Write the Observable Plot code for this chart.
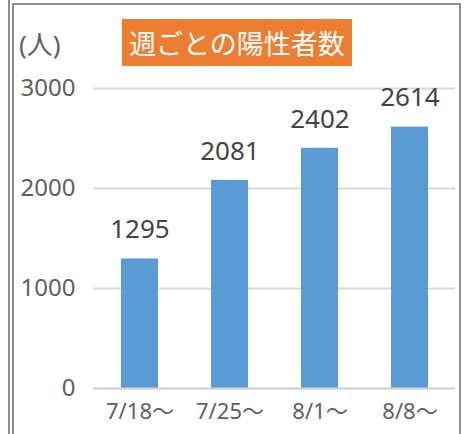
<!DOCTYPE html>
<html>
<head>
<meta charset="utf-8">
<script src="https://cdn.jsdelivr.net/npm/d3@7"></script>
<script src="https://cdn.jsdelivr.net/npm/@observablehq/plot@0.6"></script>
<style>
  html, body { margin: 0; padding: 0; background: #fff; }
  #wrap { position: relative; width: 466px; height: 434px; overflow: hidden; font-family: "Noto Sans", "Noto Sans CJK JP", sans-serif; }
  #wrap svg { position: absolute; left: 0; top: 0; }
  .line { position: absolute; background: #8e8e8e; }
  #title { position: absolute; left: 122px; top: 19px; width: 230px; height: 47px; background: #ED7D31; color: #fff;
           font-family: "Noto Sans CJK JP", sans-serif; font-size: 27px; line-height: 47px; text-align: center; white-space: nowrap; }
  #unit { position: absolute; left: 19px; top: 27px; font-size: 26px; line-height: 34px; color: #5f5f5f; white-space: nowrap; }
</style>
</head>
<body>
<div id="wrap">
  <div class="line" style="left:8px; top:0; width:2px; height:434px;"></div>
  <div class="line" style="left:12px; top:3px; width:2px; height:431px;"></div>
  <div class="line" style="left:12px; top:3px; width:449px; height:2px;"></div>
  <div class="line" style="left:459px; top:3px; width:2px; height:431px;"></div>
</div>
<script>
const weeks = ["7/18〜", "7/25〜", "8/1〜", "8/8〜"];
const cases = [1295, 2081, 2402, 2614];
const yTicks = [0, 1000, 2000, 3000];
const titleText = "週ごとの陽性者数";
const unitText = "(人)";

const data = weeks.map((w, i) => ({week: w, cases: cases[i]}));

const chart = Plot.plot({
  width: 466,
  height: 434,
  marginLeft: 93,
  marginRight: 11,
  marginTop: 88,
  marginBottom: 46,
  style: {fontFamily: '"Noto Sans", "Noto Sans CJK JP", sans-serif', background: "transparent"},
  x: {domain: weeks, paddingInner: 0.59, paddingOuter: 0.295, label: null},
  y: {domain: [0, 3000], ticks: yTicks, label: null},
  marks: [
    Plot.gridY(yTicks, {stroke: "#d9d9d9", strokeOpacity: 1, strokeWidth: 2}),
    Plot.barY(data, {x: "week", y: "cases", fill: "#5B9BD5"}),
    Plot.ruleY([0], {stroke: "#d4d4d4", strokeWidth: 2}),
    Plot.text(data, {x: "week", y: "cases", text: d => String(d.cases), dy: -29, fontSize: 26, fill: "#444"}),
    Plot.axisY({ticks: yTicks, tickFormat: d => String(d), tickSize: 0, tickPadding: 18, fontSize: 24, fill: "#5f5f5f", label: null}),
    Plot.axisX({tickSize: 0, tickPadding: 15, fontSize: 22, fill: "#5f5f5f", label: null})
  ]
});

const wrap = document.getElementById("wrap");
wrap.insertBefore(chart, wrap.firstChild);
const t = document.createElement("div");
t.id = "title"; t.textContent = titleText; wrap.appendChild(t);
const u = document.createElement("div");
u.id = "unit"; u.textContent = unitText; wrap.appendChild(u);
</script>
</body>
</html>
